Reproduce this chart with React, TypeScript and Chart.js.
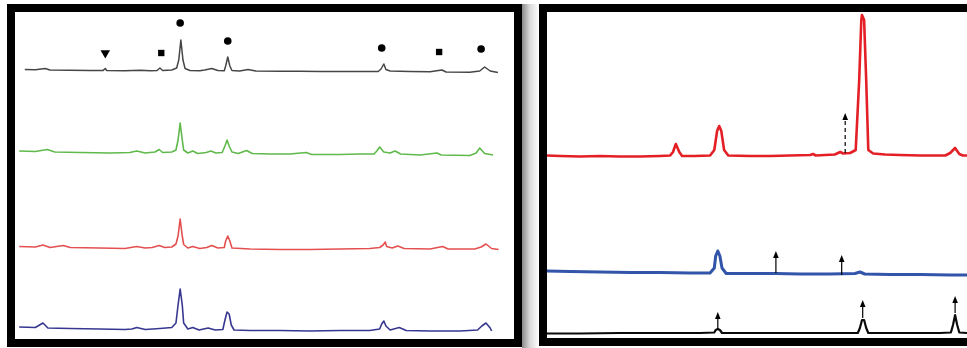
import React, { useEffect, useRef } from "react";
import { Chart, registerables } from "chart.js";

Chart.register(...registerables);

type Pt = [number, number];

// ---------- Left panel: 2θ (deg) vs stacked intensity (a.u.) ----------
const leftBlack: Pt[] = [
  [11.4, 269.5], [12.9, 269.2], [14.3, 270.5], [15.0, 269], [17.9, 268.8], [20.7, 268.5],
  [22.6, 268.6], [22.9, 270.5], [23.1, 268.5], [25.7, 268.2], [27.9, 268.7], [29.3, 268.2],
  [30.3, 268.5], [30.7, 271], [31.1, 268.5], [32.4, 269], [33.1, 271], [33.4, 279],
  [33.7, 299], [34.0, 279], [34.3, 270.5], [35.0, 268.5], [36.4, 268.2], [37.1, 269],
  [38.1, 270.5], [39.0, 268.5], [39.9, 268.2], [40.1, 273], [40.4, 282], [40.7, 273],
  [41.0, 268.5], [42.1, 268], [43.3, 269.5], [44.4, 268], [47.9, 267.8], [50.7, 267.7],
  [53.6, 267.6], [56.4, 267.5], [59.3, 267.6], [61.9, 267.5], [62.3, 270], [62.7, 275],
  [63.0, 269.5], [63.6, 268], [66.4, 267.5], [69.3, 267.2], [71.0, 269], [71.6, 267],
  [75.0, 266.8], [76.4, 268], [77.1, 272], [77.9, 268], [79.0, 266.5],
];

const leftGreen: Pt[] = [
  [10.6, 188], [12.9, 187.5], [14.6, 189.5], [15.7, 187], [19.3, 186.5], [23.6, 186],
  [26.4, 186.5], [27.4, 188], [28.6, 186], [30.0, 187], [30.6, 189.5], [31.1, 186.5],
  [32.4, 187], [33.0, 189], [33.3, 199], [33.6, 216], [33.9, 199], [34.1, 189],
  [34.7, 186], [35.4, 188], [36.1, 185.5], [37.3, 186.5], [38.0, 188], [38.7, 186],
  [39.6, 186.5], [40.0, 193], [40.3, 199], [40.6, 193], [41.0, 187], [41.9, 185.5],
  [43.1, 188.5], [43.9, 185.5], [46.4, 185], [49.3, 185], [51.6, 186.5], [52.4, 184.5],
  [56.4, 184.5], [59.3, 185], [61.3, 185], [61.7, 188], [62.1, 192], [62.7, 187],
  [63.6, 186], [64.3, 188], [65.1, 185], [67.9, 184], [70.3, 186], [70.9, 184],
  [75.0, 183.5], [75.9, 186], [76.4, 191], [77.1, 185.5], [78.3, 184],
];

const leftRed: Pt[] = [
  [10.6, 92.5], [12.9, 92], [14.0, 94], [15.0, 91.5], [16.9, 93.5], [17.9, 91.5],
  [22.1, 91], [25.7, 90.5], [27.4, 92.5], [28.6, 91], [29.6, 91.5], [30.6, 93.5],
  [31.4, 91.5], [32.4, 92], [33.0, 95], [33.3, 103], [33.6, 120], [33.9, 103],
  [34.1, 94.5], [34.7, 91], [35.4, 92.5], [36.4, 90.5], [37.4, 91.5], [38.1, 93.5],
  [39.0, 91], [39.9, 91.5], [40.1, 98], [40.4, 103], [40.7, 98], [41.0, 91],
  [43.6, 90], [47.9, 89.5], [52.1, 89.5], [56.4, 90], [60.7, 90.5], [62.1, 91.5],
  [62.6, 94], [62.9, 97], [63.1, 92.5], [63.9, 91], [64.7, 93], [65.6, 90.5],
  [69.3, 90], [71.1, 92.5], [71.9, 90], [75.7, 90], [76.6, 92], [77.3, 95],
  [78.1, 90.5], [79.1, 89.5],
];

const leftBlue: Pt[] = [
  [10.6, 12], [12.9, 11.5], [14.0, 16], [14.7, 11], [17.9, 10.5], [22.1, 10],
  [25.7, 9.5], [26.7, 10], [27.4, 11.5], [28.6, 9.5], [30.7, 10.5], [32.4, 11.5],
  [33.0, 16], [33.3, 34], [33.6, 50], [33.9, 34], [34.1, 16], [34.7, 10],
  [35.4, 11.5], [36.3, 9], [37.6, 11], [38.6, 9], [39.7, 9.5], [40.0, 19],
  [40.3, 27], [40.6, 25], [40.9, 14], [41.3, 9], [43.6, 8.5], [47.9, 8.5],
  [52.1, 8], [56.4, 8.5], [60.7, 8.5], [62.1, 10], [62.4, 15], [62.7, 18],
  [63.0, 13], [63.6, 9], [64.9, 11.5], [65.9, 8.5], [69.3, 8], [73.6, 8],
  [76.1, 9], [76.7, 13], [77.3, 16], [77.9, 11], [78.1, 8],
];

// phase markers above the top pattern
const markerTheta = [22.9, 30.9, 33.6, 40.4, 62.4, 70.6, 76.6];
const markerLevel = [286, 286, 316, 298, 291, 287, 290];
const markerPhase = ["triangle", "square", "circle", "circle", "circle", "square", "circle"];

// ---------- Right panel ----------
const rightRed: Pt[] = [
  [10.0, 182.5], [11.9, 182], [14.7, 181.5], [17.6, 182], [20.4, 181.5], [23.3, 181.5],
  [26.1, 182], [27.6, 182.5], [28.0, 186], [28.4, 194], [28.9, 186], [29.3, 182],
  [31.1, 182], [33.3, 182.5], [33.9, 188], [34.3, 207], [34.6, 212], [34.9, 207],
  [35.3, 188], [35.9, 182.5], [39.0, 182], [41.9, 182], [44.7, 182.5], [47.6, 183],
  [48.0, 184], [48.4, 182.5], [51.1, 183.5], [51.9, 186], [52.3, 184.5], [53.3, 185],
  [54.1, 188], [54.6, 258], [54.9, 318], [55.0, 323], [55.3, 318], [55.6, 258],
  [55.9, 188], [56.6, 184.5], [58.3, 183.5], [60.4, 183], [63.3, 182.5], [66.9, 182.5],
  [67.6, 185], [68.3, 190], [68.9, 184], [69.4, 182.5], [70.0, 182.5],
];

const rightBlue: Pt[] = [
  [10.0, 67], [13.3, 66.5], [17.6, 66], [21.9, 65.5], [26.1, 65.5], [30.4, 65],
  [33.3, 65], [33.9, 70], [34.1, 82], [34.4, 87], [34.7, 82], [35.0, 70],
  [35.6, 64.5], [39.0, 64.5], [42.7, 64.5], [46.1, 64], [50.4, 64], [54.0, 64.5],
  [54.7, 66], [55.4, 64], [59.0, 63.5], [63.3, 63.5], [67.6, 63], [70.0, 63],
];

const rightBlack: Pt[] = [
  [10.0, 4.5], [14.7, 4.5], [20.4, 5], [26.1, 5], [31.9, 5], [33.9, 5.5],
  [34.1, 8], [34.4, 9], [34.7, 8], [35.0, 5], [39.0, 5], [46.1, 5],
  [51.9, 5], [54.4, 5], [54.7, 10], [55.0, 18], [55.3, 18], [55.6, 10],
  [55.9, 5], [60.4, 5], [66.1, 5], [67.7, 5.5], [68.0, 13], [68.3, 23],
  [68.6, 13], [68.9, 5.5], [70.0, 5],
];

// reflection arrows: 2θ, base intensity, tip intensity
const redArrowTheta = [52.6];
const redArrowBase = [185];
const redArrowTip = [225];
const blueArrowTheta = [42.7, 52.1];
const blueArrowBase = [65, 63];
const blueArrowTip = [87, 83];
const blackArrowTheta = [34.4, 55.1, 68.3];
const blackArrowBase = [8, 20, 25];
const blackArrowTip = [26, 38, 42];

type Arrow = { x: number; base: number; tip: number; dashed: boolean };

const arrowPlugin = {
  id: "arrows",
  afterDatasetsDraw(chart: any, _args: any, opts: any) {
    const items: Arrow[] = (opts && opts.items) || [];
    const ctx = chart.ctx;
    const xs = chart.scales.x;
    const ys = chart.scales.y;
    ctx.save();
    for (const it of items) {
      const x = xs.getPixelForValue(it.x);
      const yb = ys.getPixelForValue(it.base);
      const yt = ys.getPixelForValue(it.tip);
      const headH = 7;
      const headW = 2.8;
      ctx.strokeStyle = "#000";
      ctx.lineWidth = 1.2;
      ctx.setLineDash(it.dashed ? [4, 3] : []);
      ctx.beginPath();
      ctx.moveTo(x, yb);
      ctx.lineTo(x, yt + headH);
      ctx.stroke();
      ctx.setLineDash([]);
      ctx.fillStyle = "#000";
      ctx.beginPath();
      ctx.moveTo(x, yt);
      ctx.lineTo(x - headW, yt + headH);
      ctx.lineTo(x + headW, yt + headH);
      ctx.closePath();
      ctx.fill();
    }
    ctx.restore();
  },
};

const toXY = (pts: Pt[]) => pts.map(([x, y]) => ({ x, y }));

function SpectrumChart(props: {
  width: number;
  height: number;
  xMin: number;
  xMax: number;
  yMax: number;
  datasets: any[];
  arrows: Arrow[];
}) {
  const ref = useRef<HTMLCanvasElement | null>(null);
  useEffect(() => {
    if (!ref.current) return;
    const chart = new Chart(ref.current, {
      type: "line",
      data: { datasets: props.datasets },
      options: {
        responsive: false,
        animation: false,
        maintainAspectRatio: false,
        layout: { padding: 0, autoPadding: false },
        elements: { point: { radius: 0 }, line: { tension: 0 } },
        scales: {
          x: { type: "linear", min: props.xMin, max: props.xMax, display: false },
          y: { type: "linear", min: 0, max: props.yMax, display: false },
        },
        plugins: {
          legend: { display: false },
          tooltip: { enabled: false },
          arrows: { items: props.arrows },
        } as any,
      } as any,
      plugins: [arrowPlugin as any],
    });
    return () => chart.destroy();
  }, []);
  return (
    <canvas
      ref={ref}
      width={props.width}
      height={props.height}
      style={{ display: "block", width: props.width, height: props.height }}
    />
  );
}

const lineDs = (pts: Pt[], color: string, width: number) => ({
  data: toXY(pts),
  borderColor: color,
  borderWidth: width,
  pointRadius: 0,
  fill: false,
  borderJoinStyle: "round",
});

export default function App() {
  const shapeStyle: Record<string, string> = { triangle: "triangle", square: "rect", circle: "circle" };
  const shapeRadius: Record<string, number> = { triangle: 5.5, square: 4.5, circle: 3.8 };
  const markerDs = {
    type: "scatter",
    data: markerTheta.map((t, i) => ({ x: t, y: markerLevel[i] })),
    showLine: false,
    pointStyle: markerPhase.map((p) => shapeStyle[p]),
    pointRadius: markerPhase.map((p) => shapeRadius[p]),
    rotation: markerPhase.map((p) => (p === "triangle" ? 180 : 0)),
    backgroundColor: "#000",
    borderColor: "#000",
    borderWidth: 0,
  };

  const leftSets = [
    lineDs(leftBlack, "rgb(70,70,70)", 1.5),
    lineDs(leftGreen, "rgb(95,185,75)", 1.6),
    lineDs(leftRed, "rgb(228,80,80)", 1.6),
    lineDs(leftBlue, "rgb(55,55,145)", 1.6),
    markerDs,
  ];

  const rightSets = [
    lineDs(rightRed, "rgb(228,32,38)", 2.6),
    lineDs(rightBlue, "rgb(50,85,170)", 3),
    lineDs(rightBlack, "rgb(10,10,10)", 2.2),
  ];

  const arrows: Arrow[] = [
    ...redArrowTheta.map((x, i) => ({ x, base: redArrowBase[i], tip: redArrowTip[i], dashed: true })),
    ...blueArrowTheta.map((x, i) => ({ x, base: blueArrowBase[i], tip: blueArrowTip[i], dashed: false })),
    ...blackArrowTheta.map((x, i) => ({ x, base: blackArrowBase[i], tip: blackArrowTip[i], dashed: false })),
  ];

  return (
    <div
      style={{
        position: "fixed",
        left: 0,
        top: 0,
        width: 967,
        height: 348,
        overflow: "hidden",
        background: "#fff",
      }}
    >
      <div
        style={{
          position: "absolute",
          left: 522,
          top: 4,
          width: 17,
          height: 344,
          background: "linear-gradient(to right, #8a8a8a, #d8d8d8 45%, #ffffff)",
        }}
      />
      <div
        style={{
          position: "absolute",
          left: 7,
          top: 4,
          width: 515,
          height: 343,
          boxSizing: "border-box",
          border: "8px solid #000",
          background: "#fff",
        }}
      >
        <SpectrumChart width={499} height={327} xMin={10} xMax={81.3} yMax={327} datasets={leftSets} arrows={[]} />
      </div>
      <div
        style={{
          position: "absolute",
          left: 539,
          top: 4,
          width: 440,
          height: 342,
          boxSizing: "border-box",
          border: "8px solid #000",
          background: "#fff",
        }}
      >
        <SpectrumChart width={420} height={326} xMin={10} xMax={70} yMax={326} datasets={rightSets} arrows={arrows} />
      </div>
    </div>
  );
}
